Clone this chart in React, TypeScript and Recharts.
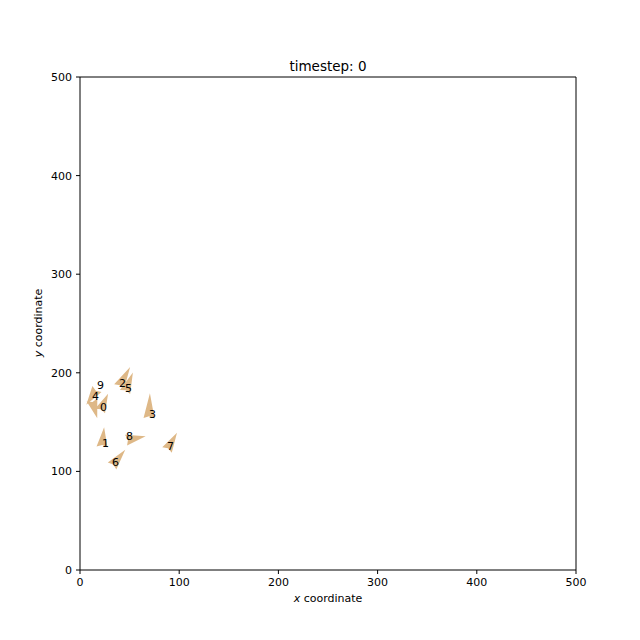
import React from "react";
import {
  ScatterChart,
  Scatter,
  XAxis,
  YAxis,
  ReferenceLine,
  Label,
} from "recharts";

// boid state at timestep 0
const boidIds = [0, 1, 2, 3, 4, 5, 6, 7, 8, 9];
const posX = [20.2, 22.2, 39.3, 69.6, 12.1, 45.4, 32.3, 87.7, 46.4, 17.1];
const posY = [161.3, 124.7, 185.6, 153.9, 172.4, 180.5, 105.5, 121.7, 131.8, 183.6];
const headingDeg = [65, 84, 61, 88, -74, 68, 51, 60, 11, -124];
const speed = [19, 20, 23, 25, 19, 21, 21, 20, 20, 19];

const xTicks = [0, 100, 200, 300, 400, 500];
const yTicks = [0, 100, 200, 300, 400, 500];

const boids = boidIds.map((id, i) => ({
  id,
  x: posX[i],
  y: posY[i],
  heading: headingDeg[i],
  speed: speed[i],
}));

const FONT = "'DejaVu Sans', sans-serif";

const Arrow = (props: any) => {
  const { cx, cy, payload } = props;
  const a = (payload.heading * Math.PI) / 180;
  const ux = Math.cos(a);
  const uy = -Math.sin(a);
  const px = -uy;
  const py = ux;
  const len = payload.speed;
  const w = 5.5;
  const pts = [
    [0, -w],
    [len, 0],
    [0, w],
    [2, 0],
  ]
    .map(([s, t]) => `${cx + ux * s + px * t},${cy + uy * s + py * t}`)
    .join(" ");
  return <polygon points={pts} fill="#deb887" />;
};

const IdLabel = (props: any) => {
  const { cx, cy, payload } = props;
  return (
    <text x={cx} y={cy} fontSize={11} fontFamily={FONT} fill="#000">
      {payload.id}
    </text>
  );
};

const tickStyle = { fill: "#000", fontSize: 11, fontFamily: FONT };

export default function App() {
  return (
    <div style={{ width: 640, height: 640, background: "#fff" }}>
      <style>{"body{margin:0}"}</style>
      <ScatterChart
        width={640}
        height={640}
        margin={{ top: 77, right: 64, bottom: 40, left: 40 }}
      >
        <XAxis
          type="number"
          dataKey="x"
          domain={[0, 500]}
          ticks={xTicks}
          height={30}
          tickSize={4}
          tickMargin={4}
          tick={tickStyle}
          axisLine={{ stroke: "#000" }}
          tickLine={{ stroke: "#000" }}
          allowDataOverflow
        >
          <Label
            content={() => (
              <text
                x={328}
                y={602}
                textAnchor="middle"
                fontSize={11}
                fontFamily={FONT}
                fill="#000"
              >
                <tspan fontStyle="italic">x</tspan> coordinate
              </text>
            )}
          />
        </XAxis>
        <YAxis
          type="number"
          dataKey="y"
          domain={[0, 500]}
          ticks={yTicks}
          width={40}
          tickSize={4}
          tickMargin={4}
          tick={tickStyle}
          axisLine={{ stroke: "#000" }}
          tickLine={{ stroke: "#000" }}
          allowDataOverflow
        >
          <Label
            content={() => (
              <text
                x={42}
                y={323}
                textAnchor="middle"
                fontSize={11}
                fontFamily={FONT}
                fill="#000"
                transform="rotate(-90 42 323)"
              >
                <tspan fontStyle="italic">y</tspan> coordinate
              </text>
            )}
          />
        </YAxis>
        <ReferenceLine y={500} stroke="#000" ifOverflow="visible">
          <Label
            content={() => (
              <text
                x={328}
                y={71}
                textAnchor="middle"
                fontSize={13.5}
                fontFamily={FONT}
                fill="#000"
              >
                timestep: 0
              </text>
            )}
          />
        </ReferenceLine>
        <ReferenceLine x={500} stroke="#000" ifOverflow="visible" />
        <Scatter data={boids} shape={Arrow} isAnimationActive={false} />
        <Scatter data={boids} shape={IdLabel} isAnimationActive={false} />
      </ScatterChart>
    </div>
  );
}
